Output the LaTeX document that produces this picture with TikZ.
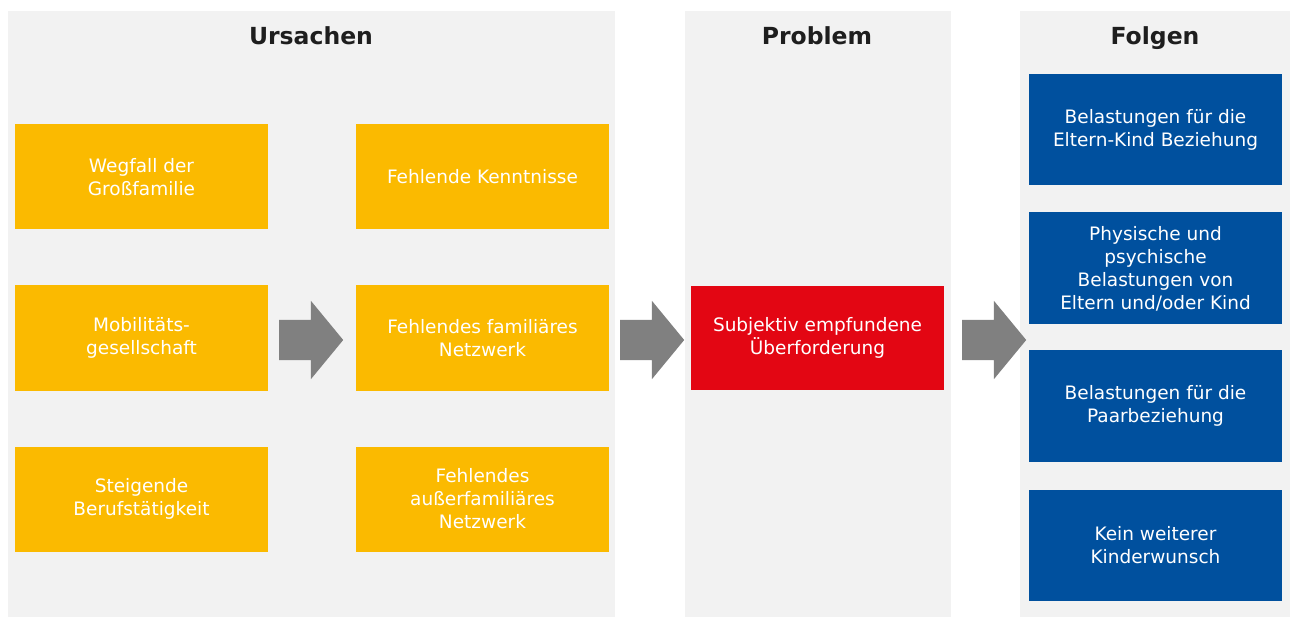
\documentclass[tikz,border=0pt]{standalone}
\usepackage{fontspec}
\setmainfont{DejaVu Sans}
\usetikzlibrary{shapes.arrows}
\definecolor{panelgray}{RGB}{242,242,242}
\definecolor{causeyellow}{RGB}{251,186,0}
\definecolor{problemred}{RGB}{227,6,19}
\definecolor{effectblue}{RGB}{0,80,158}
\definecolor{arrowgray}{RGB}{128,128,128}
\definecolor{titleblack}{RGB}{30,30,30}

\begin{document}
\begin{tikzpicture}[
  x=1pt, y=-1pt,
  panel/.style={fill=panelgray, inner sep=0pt, minimum height=606pt},
  head/.style={font=\fontsize{23.5}{28}\selectfont\bfseries, text=titleblack,
               anchor=base},
  box/.style={inner sep=2pt, align=center, text=white,
              font=\fontsize{18.5}{23}\selectfont,
              minimum width=253pt},
  cause/.style={box, fill=causeyellow, minimum height=105pt},
  problem/.style={box, fill=problemred, minimum height=104pt},
  effect/.style={box, fill=effectblue, minimum height=111pt},
  bigarrow/.style={single arrow, fill=arrowgray, inner xsep=0pt, inner ysep=20pt,
                   minimum height=64pt, single arrow head extend=19pt,
                   single arrow tip angle=101, anchor=tail}
]
  \useasboundingbox (0,0) rectangle (1290,617);

  % three background columns
  \node[panel, minimum width=607pt] (pu) at (311.5,314) {};
  \node[panel, minimum width=266pt] (pp) at (818,314) {};
  \node[panel, minimum width=270pt] (pf) at (1155,314) {};

  \node[head] (hu) at (311,45) {Ursachen};
  \node[head] (hp) at (817,45) {Problem};
  \node[head] (hf) at (1155,45) {Folgen};

  % causes
  \node[cause] (c1) at (141.5,177) {Wegfall der\\Großfamilie};
  \node[cause] (c2) at (141.5,338) {Mobilitäts-\\gesellschaft};
  \node[cause] (c3) at (141.5,499) {Steigende\\Berufstätigkeit};
  \node[cause] (n1) at (482.5,177) {Fehlende Kenntnisse};
  \node[cause] (n2) at (482.5,338) {Fehlendes familiäres\\Netzwerk};
  \node[cause] (n3) at (482.5,499) {Fehlendes\\außerfamiliäres\\Netzwerk};

  % problem
  \node[problem] (pr) at (817.5,338) {Subjektiv empfundene\\Überforderung};

  % effects
  \node[effect] (f1) at (1155.5,130) {Belastungen für die\\Eltern-Kind Beziehung};
  \node[effect, minimum height=112pt] (f2) at (1155.5,268.5) {Physische und\\psychische\\Belastungen von\\Eltern und/oder Kind};
  \node[effect] (f3) at (1155.5,406) {Belastungen für die\\Paarbeziehung};
  \node[effect] (f4) at (1155.5,545) {Kein weiterer\\Kinderwunsch};

  % block arrows between the columns
  \node[bigarrow] (a1) at (279,340) {};
  \node[bigarrow] (a2) at (620,340) {};
  \node[bigarrow] (a3) at (962,340) {};
\end{tikzpicture}
\end{document}
